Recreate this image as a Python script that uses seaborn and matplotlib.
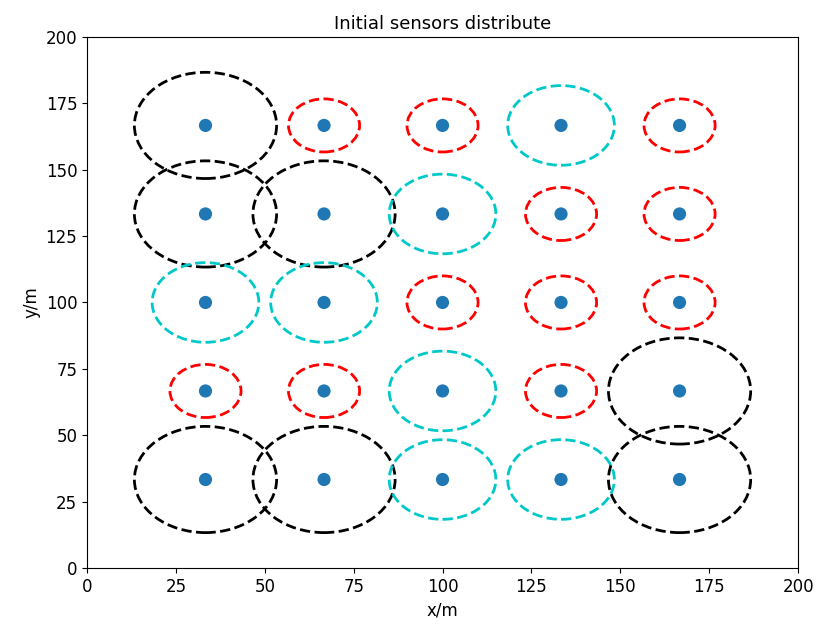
import matplotlib
matplotlib.use("Agg")
import matplotlib.pyplot as plt
from matplotlib.patches import Circle
import seaborn as sns
import pandas as pd

# sensor grid coordinates
xs = [33.33, 66.67, 100.0, 133.33, 166.67]
ys = [166.67, 133.33, 100.0, 66.67, 33.33]

# sensing radius per grid cell (rows top->bottom, columns left->right)
radii = [
    [20, 10, 10, 15, 10],
    [20, 20, 15, 10, 10],
    [15, 15, 10, 10, 10],
    [10, 10, 15, 10, 20],
    [20, 20, 15, 15, 20],
]
radius_colors = {10: "red", 15: "#00c8c8", 20: "black"}

rows = []
for i, y in enumerate(ys):
    for j, x in enumerate(xs):
        rows.append({"x": x, "y": y, "r": radii[i][j]})
df = pd.DataFrame(rows)

fig = plt.figure(figsize=(8.23, 6.30), dpi=100)
ax = fig.add_axes([0.1057, 0.0984, 0.864, 0.843])

for _, row in df.iterrows():
    ax.add_patch(Circle((row["x"], row["y"]), row["r"], fill=False,
                        edgecolor=radius_colors[row["r"]], linestyle="--",
                        linewidth=2.0))

sns.scatterplot(data=df, x="x", y="y", ax=ax, color="#1f77b4", s=90,
                edgecolor="none", zorder=3, legend=False)

ax.set_xlim(0, 200)
ax.set_ylim(0, 200)
ax.set_xticks(range(0, 201, 25))
ax.set_yticks(range(0, 201, 25))
ax.tick_params(labelsize=12)
ax.set_xlabel("x/m", fontsize=12)
ax.set_ylabel("y/m", fontsize=12)
ax.set_title("Initial sensors distribute", fontsize=13)

fig.savefig("out.png", dpi=100)
